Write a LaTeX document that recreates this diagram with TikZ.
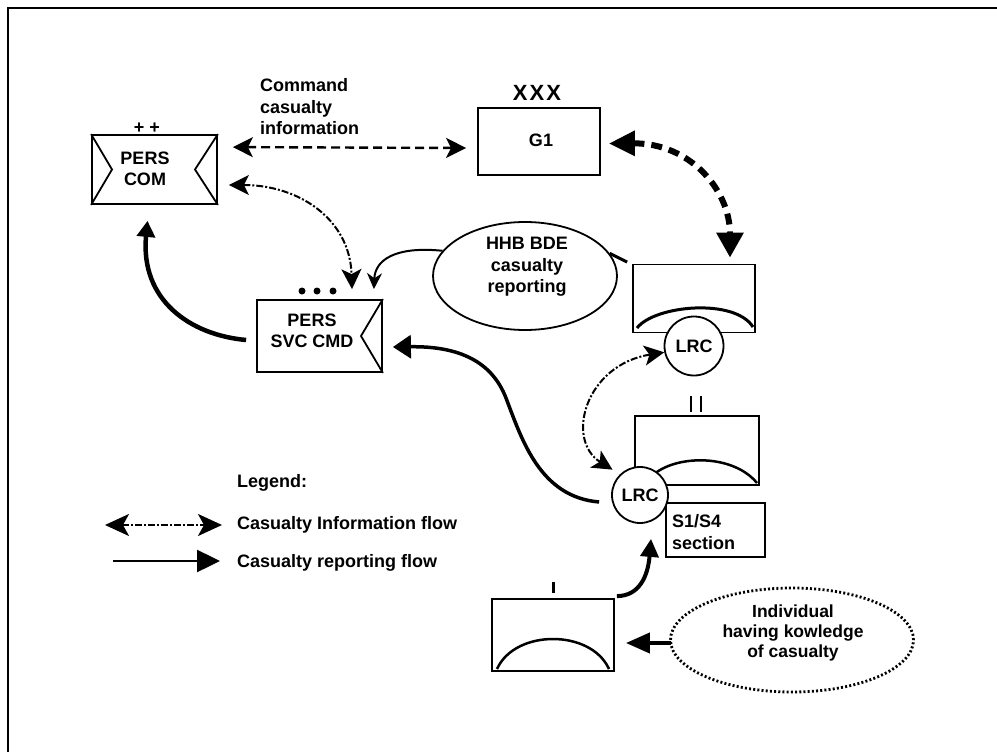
\documentclass[tikz,border=0pt]{standalone}
\usepackage{fontspec}
\setmainfont{Liberation Sans}
\usetikzlibrary{arrows.meta,shapes.geometric,calc}
\begin{document}
\begin{tikzpicture}[x=1pt,y=-1pt,
  box/.style={draw,line width=1.8pt,inner sep=0pt},
  txt/.style={font=\fontsize{18}{21.5}\selectfont\bfseries,align=center,inner sep=0pt},
  lrcnode/.style={draw,circle,fill=white,line width=1.8pt,inner sep=0pt,font=\fontsize{18}{21.5}\selectfont\bfseries},
  info/.style={line width=2pt,dash pattern=on 7pt off 2pt on 2pt off 2pt,
    {Stealth[length=20pt,width=20pt,inset=5pt]}-{Stealth[length=20pt,width=20pt,inset=5pt]}},
  report/.style={line width=3.5pt,-{Triangle[length=18pt,width=20pt]}}]
\useasboundingbox (0,0) rectangle (997,752);
% frame
\draw[line width=2.6pt] (8,752) -- (8,8) -- (997,8);

% PERS COM
\node[box,minimum width=125pt,minimum height=69pt] (perscom) at (154.5,169.5) {};
\draw[line width=1.8pt] (perscom.north west) -- (112,169.5) -- (perscom.south west);
\draw[line width=1.8pt] (perscom.north east) -- (195,169.5) -- (perscom.south east);
\node[txt] (perscomt) at (145,169) {PERS\\COM};
\node[txt] (pp) at (147,128) {+ +};

% G1
\node[box,minimum width=122pt,minimum height=67pt] (g1) at (539,141.5) {};
\node[txt] (g1t) at (541,140) {G1};
\node[txt,font=\fontsize{22}{24}\selectfont\bfseries] (xxx) at (537,93) {X\kern2ptX\kern2ptX};
\node[txt,align=left,anchor=west] (cmdt) at (260,107) {Command\\casualty\\information};

% PERS SVC CMD
\node[box,minimum width=125pt,minimum height=72pt] (svc) at (319.5,336) {};
\draw[line width=1.8pt] (svc.north east) -- (361,336) -- (svc.south east);
\node[txt] (svct) at (312,331) {PERS\\SVC CMD};
\fill (302,291) circle (3.5pt) (317,291) circle (3.5pt) (333,291) circle (3.5pt);

% HHB ellipse
\node[draw,ellipse,line width=1.8pt,minimum width=184pt,minimum height=108pt,inner sep=0pt] (hhb) at (525,276) {};
\node[txt] (hhbt) at (527,267) {HHB BDE\\casualty\\reporting};

% upper right unit
\node[box,minimum width=122pt,minimum height=68pt] (ubox) at (694,298.5) {};
\draw[line width=3pt] (637,328) .. controls (655,305) and (735,298) .. (753,327);
\node[lrcnode,minimum size=59pt] (ulrc) at (694,346) {LRC};

% lower right unit
\draw[line width=1.5pt] (691,396) -- (691,412) (701,396) -- (701,412);
\node[box,minimum width=124pt,minimum height=69pt] (lbox) at (697,450.5) {};
\draw[line width=2.5pt] (645,485) .. controls (660,455) and (730,450) .. (757,483);
\node[box,minimum width=99pt,minimum height=54pt] (s14) at (715.5,530) {};
\node[txt,align=left,anchor=west] (s14t) at (672,532) {S1/S4\\section};
\node[lrcnode,minimum size=56pt] (llrc) at (640,495) {LRC};

% bottom unit
\node[box,minimum width=122pt,minimum height=72pt] (ibox) at (553,635) {};
\draw[line width=2.5pt] (497,669) .. controls (515,629) and (591,629) .. (609,669);
\draw[line width=3pt] (553,582) -- (553,593);

% individual ellipse
\node[draw,ellipse,line width=2.8pt,dash pattern=on 2pt off 2.2pt,minimum width=243pt,minimum height=104pt,inner sep=0pt] (indiv) at (792,640) {};
\node[txt,font=\fontsize{17.5}{20}\selectfont\bfseries] (indivt) at (793,633) {Individual\\having kowledge\\of casualty};

% connectors
\draw[info,line width=2.4pt,dash pattern=on 9pt off 5pt] ($(perscom.north east)+(15,13)$) -- ($(g1.west)+(-11,6.5)$);
\draw[info] ($(perscom.east)+(11,15.5)$) .. controls (300,185) and (350,220) .. ($(svc.north)+(32.5,-10)$);
\draw[line width=2pt,-{Stealth[length=16pt,width=15pt]}] (hhb.163) .. controls (395,246) and (375,260) .. ($(svc.north east)+(-9,-10)$);
\draw[line width=3pt] (hhb.15) -- ($(ubox.north west)+(-5,-1.5)$);
\draw[line width=6pt,dash pattern=on 11pt off 7pt,{Triangle[length=26pt,width=24pt]}-{Triangle[length=25pt,width=26pt]}]
  ($(g1.east)+(8,2)$) .. controls (690,143) and (730,190) .. ($(ubox.north)+(36,-6)$);
\draw[info] (ulrc.192) .. controls (585,365) and (565,440) .. ($(llrc.138)+(-6,-6)$);
\draw[report,-{Triangle[length=18pt,width=23pt]}] ($(llrc.west)+(-12,7)$) .. controls (540,497) and (522,440) .. (506,398)
  .. controls (492,362) and (460,346) .. ($(svc.east)+(10,11)$);
\draw[report,line width=4.5pt,-{Triangle[length=16pt,width=18pt]}] ($(svc.west)+(-10,4)$) .. controls (190,335) and (140,300) .. ($(perscom.south)+(-7,16)$);
\draw[report,line width=4pt,-{Triangle[length=18pt,width=18pt]}] ($(ibox.north east)+(2,-2)$) .. controls (640,596) and (648,575) .. ($(llrc.south)+(11,15)$);
\draw[report,line width=4pt,-{Triangle[length=24pt,width=20pt]}] ($(indiv.west)+(2,3)$) -- ($(ibox.east)+(11,8)$);

% legend
\node[txt,anchor=west] (leg) at (237,483) {Legend:};
\node[txt,anchor=west] (leg1) at (237,525) {Casualty Information flow};
\node[txt,anchor=west] (leg2) at (237,563) {Casualty reporting flow};
\draw[info,{Stealth[length=24pt,width=22pt,inset=6pt]}-{Stealth[length=24pt,width=22pt,inset=6pt]}] ($(leg1.west)+(-132,0)$) -- ($(leg1.west)+(-15,0)$);
\draw[report,line width=2.5pt,-{Triangle[length=23pt,width=22pt]}] ($(leg2.west)+(-124,-2)$) -- ($(leg2.west)+(-17,-2)$);
\end{tikzpicture}
\end{document}
